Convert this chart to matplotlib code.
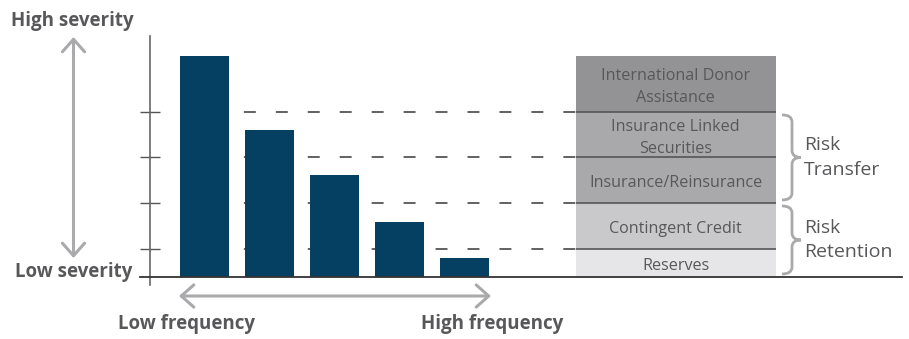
import matplotlib
matplotlib.use("Agg")
import matplotlib.pyplot as plt
import numpy as np
from matplotlib.path import Path
from matplotlib.patches import PathPatch

plt.rcParams['font.family'] = ['Open Sans', 'DejaVu Sans']
plt.rcParams['lines.scale_dashes'] = False

# ---- data ----
bar_categories = ["f1", "f2", "f3", "f4", "f5"]          # low -> high frequency
bar_severity = [100, 66.5, 46.2, 24.9, 8.6]              # relative severity

layer_labels = ["Reserves", "Contingent Credit", "Insurance/Reinsurance",
                "Insurance Linked\nSecurities", "International Donor\nAssistance"]
layer_sizes = [12.7, 20.8, 20.8, 20.4, 25.3]
layer_colors = ["#e6e6e8", "#c9c9cb", "#a9a9ab", "#a9a9ab", "#939395"]

group_labels = ["Risk\nRetention", "Risk\nTransfer"]
group_spans = [(0, 2), (2, 4)]   # layer index ranges (start, end)

y_top_label = "High severity"
y_bottom_label = "Low severity"
x_left_label = "Low frequency"
x_right_label = "High frequency"

BAR_COLOR = "#053f62"
TEXT = "#58585a"
LINE = "#555555"
ARROW = "#aaaaac"

W, H = 909, 339
fig = plt.figure(figsize=(W / 100, H / 100), dpi=100)

# main axes: spine at x=150px, spans y 36..285 px
ax = fig.add_axes([150 / W, (H - 285) / H, (902 - 150) / W, (285 - 36) / H])
px_per_unit = 2.21
ax.set_ylim(-8 / px_per_unit, 241 / px_per_unit)
ax.set_xlim(-0.838, 10.731)

xpos = np.arange(len(bar_categories))
ax.bar(xpos, bar_severity, width=0.754, color=BAR_COLOR, zorder=3)

# stacked layer column
stack_x, stack_w = 7.25, 3.077
bottoms = np.concatenate([[0], np.cumsum(layer_sizes)[:-1]])
ax.bar([stack_x] * len(layer_sizes), layer_sizes, bottom=bottoms, width=stack_w,
       color=layer_colors, zorder=2, linewidth=0)
for lab, b, s in zip(layer_labels, bottoms, layer_sizes):
    ax.text(stack_x, b + s / 2 - 1.5, lab, ha="center", va="center", color=TEXT,
            fontsize=11.6, linespacing=1.5, zorder=5)

boundaries = np.cumsum(layer_sizes)[:-1]
box_left = stack_x - stack_w / 2
box_right = stack_x + stack_w / 2
ax.hlines(boundaries, -0.377, box_left, colors=LINE, linewidth=1.3,
          linestyles=[(0, (8.6, 14.4))], zorder=1)
ax.hlines(boundaries, box_left, box_right, colors=LINE, linewidth=1.2, zorder=4)

ax.axhline(0, xmin=-10 / 752, xmax=1, color="#333333", linewidth=1.3,
           clip_on=False, zorder=6)

for sp in ["top", "right", "bottom"]:
    ax.spines[sp].set_visible(False)
ax.spines["left"].set_color("#666666")
ax.spines["left"].set_linewidth(1.2)
ax.set_yticks(boundaries)
ax.set_yticklabels([])
ax.tick_params(axis="y", direction="inout", length=14.4, width=1.0, color=LINE)
ax.set_xticks([])
ax.patch.set_alpha(0)

# overlay axes in figure pixels for decorations
ov = fig.add_axes([0, 0, 1, 1], zorder=-1)
ov.set_xlim(0, W)
ov.set_ylim(H, 0)
ov.axis("off")

arrowprops = dict(arrowstyle="<->,head_length=0.45,head_width=0.4", color=ARROW,
                  lw=2.2, shrinkA=0, shrinkB=0, mutation_scale=20)
ov.annotate("", xy=(73.5, 37), xytext=(73.5, 258), arrowprops=arrowprops)
ov.annotate("", xy=(179, 296), xytext=(491, 296), arrowprops=arrowprops)

lab_fs = 13.5
ov.text(72, 21, y_top_label, ha="center", va="center", fontsize=lab_fs,
        fontweight="bold", color=TEXT)
ov.text(73.5, 272, y_bottom_label, ha="center", va="center", fontsize=lab_fs,
        fontweight="bold", color=TEXT)
ov.text(186, 324, x_left_label, ha="center", va="center", fontsize=lab_fs,
        fontweight="bold", color=TEXT)
ov.text(492, 324, x_right_label, ha="center", va="center", fontsize=lab_fs,
        fontweight="bold", color=TEXT)


def brace(axis, y0, y1, x0, x1, x2, r, **kw):
    ym = (y0 + y1) / 2
    codes = [Path.MOVETO, Path.CURVE3, Path.CURVE3,
             Path.LINETO, Path.CURVE3, Path.CURVE3,
             Path.CURVE3, Path.CURVE3,
             Path.LINETO, Path.CURVE3, Path.CURVE3]
    verts = [(x0, y0), (x1, y0), (x1, y0 + r),
             (x1, ym - r), (x1, ym), (x2, ym),
             (x1, ym), (x1, ym + r),
             (x1, y1 - r), (x1, y1), (x0, y1)]
    axis.add_patch(PathPatch(Path(verts, codes), fill=False, **kw))


def to_px(v):
    return 277 - v * px_per_unit


cum = np.concatenate([[0], np.cumsum(layer_sizes)])
for lab, (s, e) in zip(group_labels, group_spans):
    ytop = to_px(cum[e]) + 3
    ybot = to_px(cum[s]) - 3
    brace(ov, ytop, ybot, 782, 792, 801, 7, color=ARROW, lw=2)
    ov.text(804, (ytop + ybot) / 2, lab, ha="left", va="center", fontsize=14,
            color=TEXT, linespacing=1.45)

fig.savefig("out.png", dpi=100)
